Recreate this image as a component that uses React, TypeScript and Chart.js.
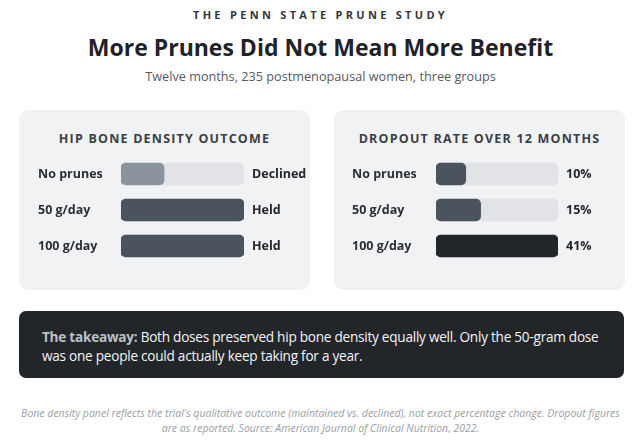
import React, { useEffect, useRef } from "react";
import { Chart, registerables } from "chart.js";
Chart.register(...registerables);

document.body.style.margin = "0";

const FONT = "'Open Sans', 'Noto Sans', sans-serif";

const groups = ["No prunes", "50 g/day", "100 g/day"];
const boneLevel = [35, 100, 100];
const boneOutcome = ["Declined", "Held", "Held"];
const boneMax = 100;
const boneColors = ["#8b939c", "#4b545e", "#4b545e"];
const dropoutRate = [10, 15, 41];
const dropoutLabels = ["10%", "15%", "41%"];
const dropoutMax = 41;
const dropoutColors = ["#4b545e", "#4b545e", "#22252a"];

type PanelProps = {
  left: number;
  inset: number;
  title: string;
  values: number[];
  max: number;
  rightLabels: string[];
  colors: string[];
  leftW: number;
  barW: number;
  rightW: number;
};

function BarPanel(p: PanelProps) {
  const ref = useRef<HTMLCanvasElement | null>(null);
  useEffect(() => {
    if (!ref.current) return;
    const tickFont = { family: FONT, size: 12.5, weight: "bold" as const };
    const chart = new Chart(ref.current, {
      type: "bar",
      data: {
        labels: groups,
        datasets: [
          {
            data: p.values,
            backgroundColor: p.colors,
            borderRadius: 5,
            borderSkipped: false,
            barThickness: 22,
            grouped: false,
            order: 0,
          } as any,
          {
            data: groups.map(() => p.max),
            backgroundColor: "#e1e3e6",
            borderRadius: 5,
            borderSkipped: false,
            barThickness: 22,
            grouped: false,
            order: 1,
          } as any,
        ],
      },
      options: {
        indexAxis: "y",
        animation: false,
        responsive: false,
        maintainAspectRatio: false,
        layout: { padding: 0 },
        events: [],
        plugins: { legend: { display: false }, tooltip: { enabled: false } },
        scales: {
          x: { display: false, min: 0, max: p.max },
          y: {
            position: "left",
            grid: { display: false, drawTicks: false },
            border: { display: false },
            ticks: { crossAlign: "far", padding: 0, color: "#2b2f33", font: tickFont },
            afterFit: (s: any) => {
              s.width = p.leftW;
              s.paddingTop = 0;
              s.paddingBottom = 0;
            },
          },
          y2: {
            type: "category",
            position: "right",
            labels: p.rightLabels,
            offset: true,
            grid: { display: false, drawTicks: false },
            border: { display: false },
            ticks: { padding: 8, color: "#24272b", font: tickFont },
            afterFit: (s: any) => {
              s.width = p.rightW;
              s.paddingTop = 0;
              s.paddingBottom = 0;
            },
          },
        } as any,
      },
    });
    return () => chart.destroy();
  }, []);
  const width = p.leftW + p.barW + p.rightW;
  return (
    <div
      style={{
        position: "absolute",
        left: p.left,
        top: 110,
        width: 291,
        height: 180,
        background: "#f1f2f4",
        borderRadius: 9,
      }}
    >
      <div
        style={{
          position: "absolute",
          left: 0,
          right: 0,
          top: 20,
          textAlign: "center",
          fontFamily: FONT,
          fontWeight: 700,
          fontSize: 12.5,
          letterSpacing: 1.2,
          color: "#3a3f45",
          lineHeight: "18px",
        }}
      >
        {p.title}
      </div>
      <canvas
        ref={ref}
        width={width}
        height={108}
        style={{ position: "absolute", left: p.inset, top: 46, width, height: 108 }}
      />
    </div>
  );
}

export default function App() {
  return (
    <div style={{ position: "relative", width: 641, height: 445, background: "#fff", fontFamily: FONT, overflow: "hidden" }}>
      <div
        style={{
          position: "absolute",
          left: 0,
          right: 0,
          top: 6,
          textAlign: "center",
          fontSize: 11,
          fontWeight: 700,
          letterSpacing: 3.3,
          color: "#33373c",
          lineHeight: "18px",
        }}
      >
        THE PENN STATE PRUNE STUDY
      </div>
      <div
        style={{
          position: "absolute",
          left: 0,
          right: 0,
          top: 32,
          textAlign: "center",
          fontSize: 23,
          fontWeight: 700,
          color: "#1f2226",
          lineHeight: "30px",
        }}
      >
        More Prunes Did Not Mean More Benefit
      </div>
      <div
        style={{
          position: "absolute",
          left: 0,
          right: 0,
          top: 67,
          textAlign: "center",
          fontSize: 12.7,
          color: "#555b62",
          lineHeight: "18px",
        }}
      >
        Twelve months, 235 postmenopausal women, three groups
      </div>

      <BarPanel
        left={19}
        inset={19}
        title="HIP BONE DENSITY OUTCOME"
        values={boneLevel}
        max={boneMax}
        rightLabels={boneOutcome}
        colors={boneColors}
        leftW={83}
        barW={123}
        rightW={72}
      />
      <BarPanel
        left={334}
        inset={18}
        title="DROPOUT RATE OVER 12 MONTHS"
        values={dropoutRate}
        max={dropoutMax}
        rightLabels={dropoutLabels}
        colors={dropoutColors}
        leftW={84}
        barW={122}
        rightW={50}
      />

      <div
        style={{
          position: "absolute",
          left: 19,
          top: 311,
          width: 605,
          height: 67,
          boxSizing: "border-box",
          padding: "17px 18px 0 23px",
          background: "#232629",
          borderRadius: 7,
          color: "#f3f4f6",
          fontSize: 13.6,
          letterSpacing: -0.25,
          lineHeight: "18.5px",
        }}
      >
        <span style={{ fontWeight: 700, color: "#b9c1ca" }}>The takeaway:</span> Both doses preserved hip bone density
        equally well. Only the 50-gram dose was one people could actually keep taking for a year.
      </div>

      <div
        style={{
          position: "absolute",
          left: 16,
          right: 16,
          top: 406,
          textAlign: "center",
          fontSize: 10.5,
          fontStyle: "italic",
          color: "#9aa0a6",
          lineHeight: "15px",
        }}
      >
        Bone density panel reflects the trial's qualitative outcome (maintained vs. declined), not exact percentage
        change. Dropout figures are as reported. Source: American Journal of Clinical Nutrition, 2022.
      </div>
    </div>
  );
}
